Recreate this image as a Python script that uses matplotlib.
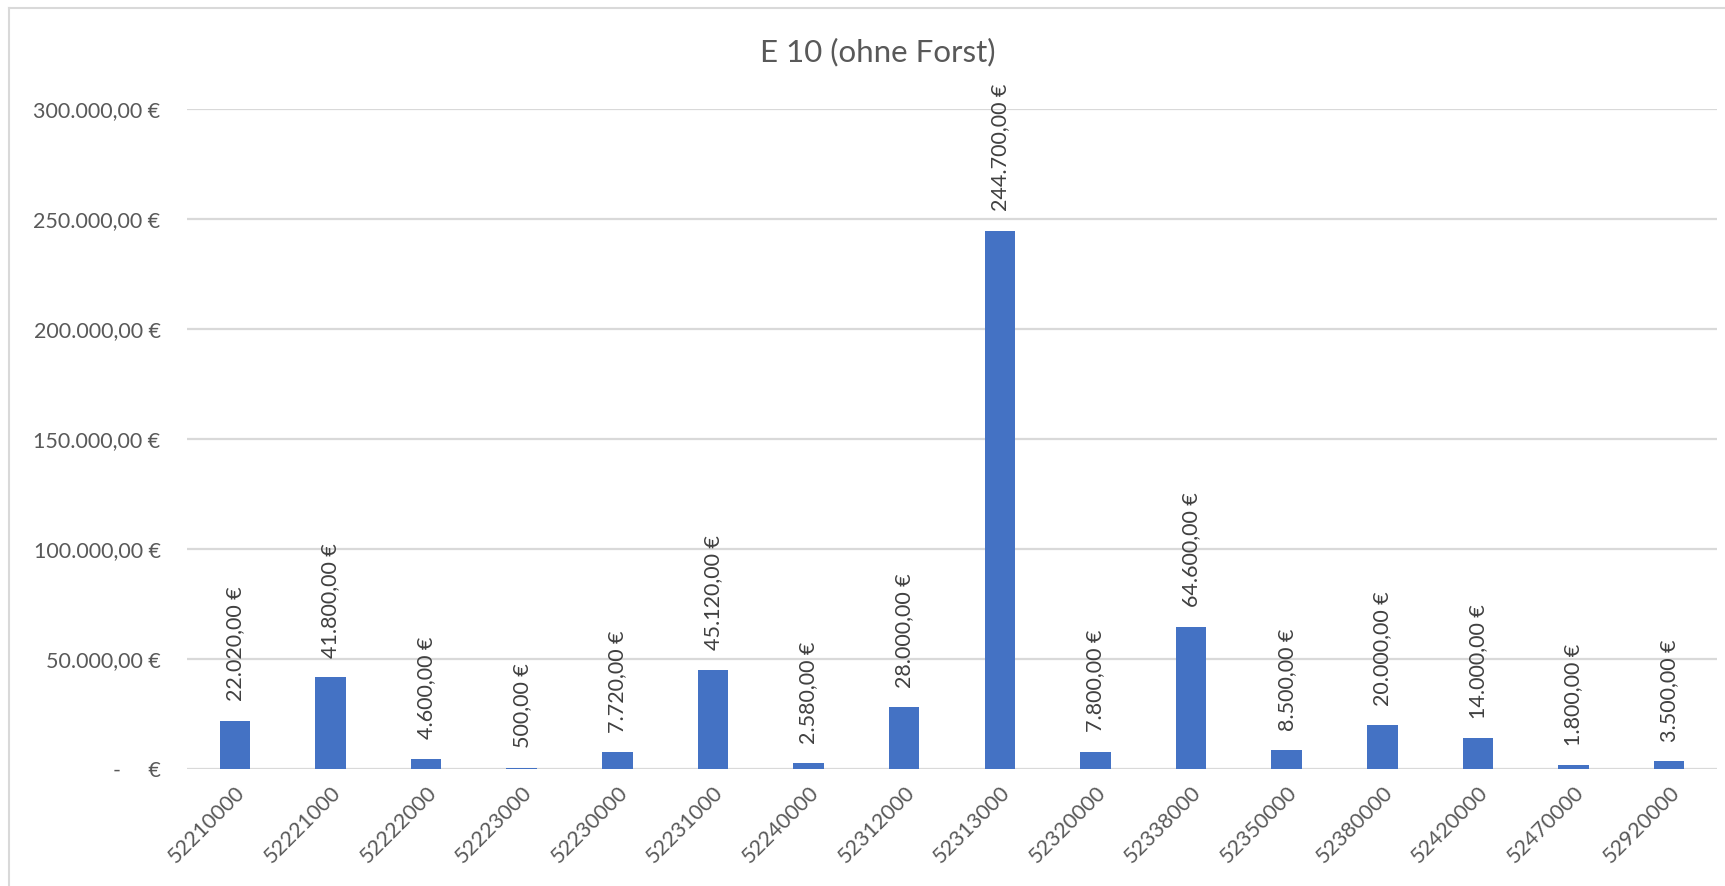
import matplotlib.pyplot as plt
from matplotlib.lines import Line2D
from matplotlib.ticker import FuncFormatter

plt.rcParams['font.family'] = ['Lato', 'DejaVu Sans']

categories = ['52210000', '52221000', '52222000', '52223000', '52230000', '52231000',
              '52240000', '52312000', '52313000', '52320000', '52338000', '52350000',
              '52380000', '52420000', '52470000', '52920000']
values = [22020, 41800, 4600, 500, 7720, 45120, 2580, 28000,
          244700, 7800, 64600, 8500, 20000, 14000, 1800, 3500]
y_ticks = [0, 50000, 100000, 150000, 200000, 250000, 300000]
title = 'E 10 (ohne Forst)'

BAR = '#4472C4'
GRID = '#D9D9D9'
TICK_COL = '#595959'
LABEL_COL = '#404040'


def euro(v):
    s = f'{v:,.2f}'.replace(',', 'X').replace('.', ',').replace('X', '.')
    return s + ' €'


def y_fmt(v, pos):
    if v == 0:
        return '-     €'
    return euro(v)


fig = plt.figure(figsize=(17.25, 8.86), dpi=100)
ax = fig.add_axes([187 / 1725, 1 - 769 / 886, (1717 - 187) / 1725, (769 - 109) / 886])

x = range(len(categories))
ax.bar(x, values, width=0.32, color=BAR, zorder=3)

for xi, v in zip(x, values):
    ax.annotate(euro(v), (xi, v), xytext=(0, 14), textcoords='offset points',
                rotation=90, ha='center', va='bottom', fontsize=15.5, color=LABEL_COL)

ax.set_xlim(-0.5, len(categories) - 0.5)
ax.set_ylim(0, 300000)
ax.set_yticks(y_ticks)
ax.yaxis.set_major_formatter(FuncFormatter(y_fmt))
ax.set_xticks(list(x))
ax.set_xticklabels(categories, rotation=45, ha='right', rotation_mode='anchor')

ax.grid(axis='y', color=GRID, linewidth=1.6, zorder=0)
for s in ax.spines.values():
    s.set_visible(False)
ax.tick_params(axis='both', length=0, labelsize=15.5, labelcolor=TICK_COL)
ax.tick_params(axis='y', pad=19)
ax.tick_params(axis='x', pad=10)

fig.text(878 / 1725, 1 - 52 / 886, title, ha='center', va='center',
         fontsize=22.5, color=TICK_COL)

# chart frame (only left and top edges are visible in the crop)
fig.add_artist(Line2D([9 / 1725, 9 / 1725], [0, 1 - 8 / 886], color=GRID, linewidth=1.5))
fig.add_artist(Line2D([9 / 1725, 1], [1 - 8 / 886, 1 - 8 / 886], color=GRID, linewidth=1.5))

fig.savefig('out.png', dpi=100)
